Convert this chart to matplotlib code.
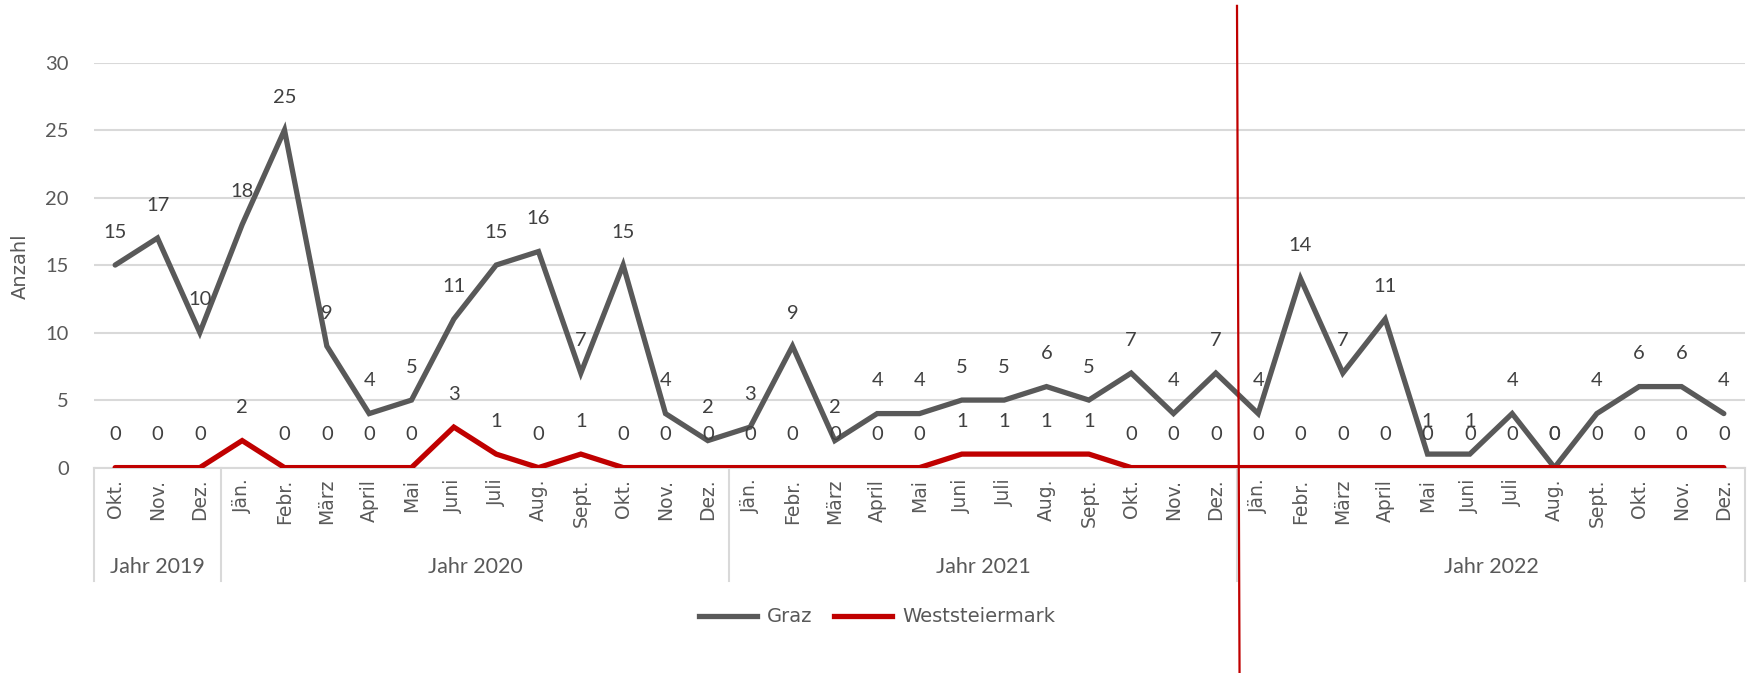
import matplotlib
matplotlib.use("Agg")
import matplotlib.pyplot as plt
import matplotlib.transforms as mtransforms
from matplotlib.lines import Line2D

months = ["Okt.", "Nov.", "Dez.",
          "Jän.", "Febr.", "März", "April", "Mai", "Juni", "Juli", "Aug.", "Sept.", "Okt.", "Nov.", "Dez.",
          "Jän.", "Febr.", "März", "April", "Mai", "Juni", "Juli", "Aug.", "Sept.", "Okt.", "Nov.", "Dez.",
          "Jän.", "Febr.", "März", "April", "Mai", "Juni", "Juli", "Aug.", "Sept.", "Okt.", "Nov.", "Dez."]
years = ["Jahr 2019", "Jahr 2020", "Jahr 2021", "Jahr 2022"]
year_counts = [3, 12, 12, 12]

graz = [15, 17, 10,
        18, 25, 9, 4, 5, 11, 15, 16, 7, 15, 4, 2,
        3, 9, 2, 4, 4, 5, 5, 6, 5, 7, 4, 7,
        4, 14, 7, 11, 1, 1, 4, 0, 4, 6, 6, 4]
west = [0, 0, 0,
        2, 0, 0, 0, 0, 3, 1, 0, 1, 0, 0, 0,
        0, 0, 0, 0, 0, 1, 1, 1, 1, 0, 0, 0,
        0, 0, 0, 0, 0, 0, 0, 0, 0, 0, 0, 0]
series_names = ["Graz", "Weststeiermark"]

GRAY = "#595959"
RED = "#C00000"
GRID = "#D9D9D9"
TXT = "#404040"

W, H = 1750, 673
fig = plt.figure(figsize=(W / 100, H / 100), dpi=100)
left, right = 94 / W, 1745 / W
bottom, top = 1 - 467.6 / H, 1 - 62.5 / H
ax = fig.add_axes([left, bottom, right - left, top - bottom])

x = list(range(len(months)))
ax.plot(x, graz, color=GRAY, lw=3.8, solid_joinstyle="miter", solid_capstyle="round", zorder=3)
ax.plot(x, west, color=RED, lw=3.8, solid_joinstyle="miter", solid_capstyle="round", zorder=4)

num_font = "Lato"
for xi, v in zip(x, graz):
    ax.annotate(str(v), (xi, v), xytext=(0, 23.5), textcoords="offset points",
                ha="center", va="center", fontsize=14.5, color=TXT, family=num_font, zorder=5)
for xi, v in zip(x, west):
    ax.annotate(str(v), (xi, v), xytext=(0, 23.5), textcoords="offset points",
                ha="center", va="center", fontsize=14.5, color=TXT, family=num_font, zorder=5)

ax.set_xlim(-0.5, len(months) - 0.5)
ax.set_ylim(0, 30)
ax.set_yticks(range(0, 31, 5))
ax.set_yticklabels([str(v) for v in range(0, 31, 5)], family=num_font, fontsize=14.5, color=GRAY)
ax.yaxis.grid(True, color=GRID, lw=1.5, zorder=0)
ax.set_axisbelow(True)
for s in ["top", "right", "left"]:
    ax.spines[s].set_visible(False)
ax.spines["bottom"].set_color(GRID)
ax.spines["bottom"].set_linewidth(1.5)
ax.tick_params(axis="y", length=0, pad=18)
ax.set_xticks(x)
ax.set_xticklabels(months, rotation=90, fontsize=13.5, color=GRAY, family="DejaVu Sans")
ax.tick_params(axis="x", length=0, pad=8)

# grouped year axis
trans = mtransforms.blended_transform_factory(ax.transData, ax.transAxes)
sep_bottom = -(581 - 467.6) / 405
year_y = -(567 - 467.6) / 405
start = -0.5
ax.plot([start, start], [0, sep_bottom], transform=trans, color=GRID, lw=1.5, clip_on=False)
for name, n in zip(years, year_counts):
    end = start + n
    ax.plot([end, end], [0, sep_bottom], transform=trans, color=GRID, lw=1.5, clip_on=False)
    ax.text((start + end) / 2, year_y, name, transform=trans, ha="center", va="center",
            fontsize=15.5, color=GRAY, family=num_font)
    start = end

# red vertical marker between Dez. 2021 and Jän. 2022
mx = sum(year_counts[:3]) - 0.5
ax.plot([mx, mx + 0.06], [(467.6 - 6) / 405, -(673 - 467.6) / 405], transform=trans,
        color=RED, lw=1.6, clip_on=False, zorder=6)

fig.text(20 / W, 1 - 266 / H, "Anzahl", rotation=90, ha="center", va="center",
         fontsize=14, color=GRAY, family="DejaVu Sans")

handles = [Line2D([], [], color=GRAY, lw=3.8), Line2D([], [], color=RED, lw=3.8)]
fig.legend(handles, series_names, loc="center", bbox_to_anchor=(877 / W, 1 - 617 / H),
           ncol=2, frameon=False, handlelength=3.0, columnspacing=1.1, handletextpad=0.5,
           prop={"family": "DejaVu Sans", "size": 14}, labelcolor=GRAY)

fig.savefig("out.png", dpi=100)
